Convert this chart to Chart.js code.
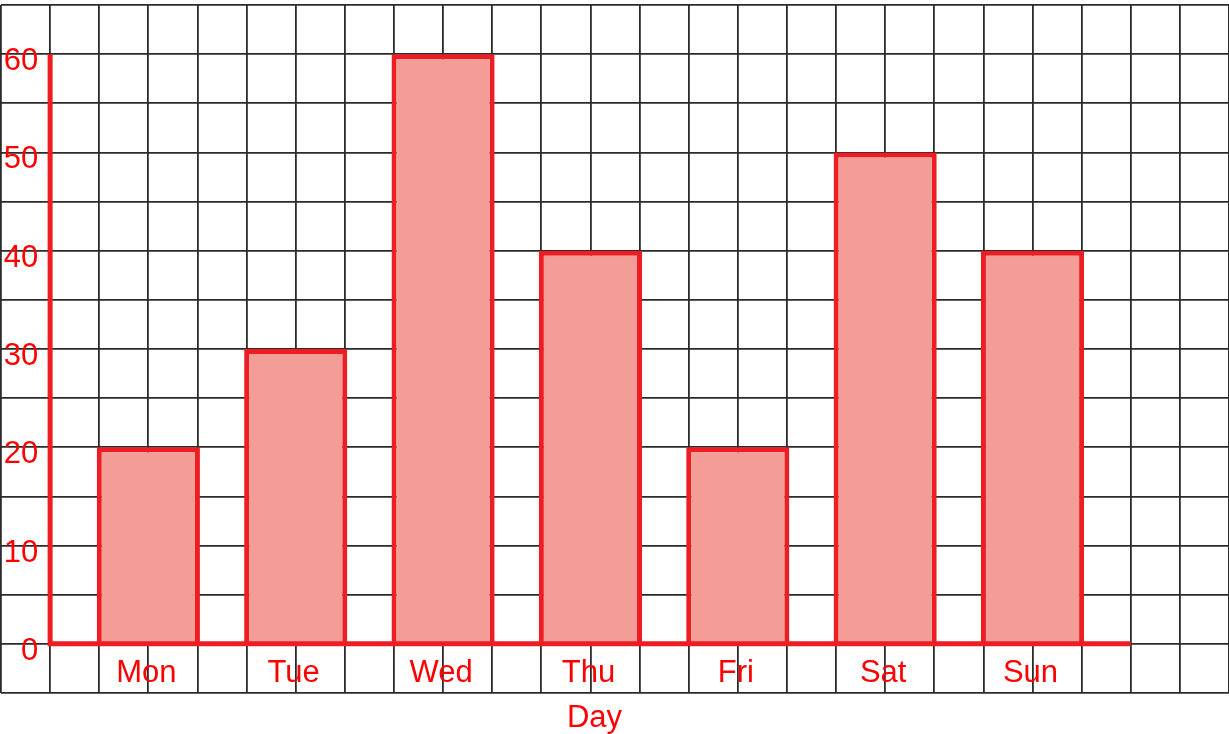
<!DOCTYPE html>
<html>
<head>
<meta charset="utf-8">
<title>Day</title>
<script src="https://cdn.jsdelivr.net/npm/chart.js@4.4.1/dist/chart.umd.min.js"></script>
<style>
  html, body { margin: 0; padding: 0; background: #fff; }
  canvas { display: block; }
</style>
</head>
<body>
<canvas id="chart-area" width="1229" height="734"></canvas>
<script>
const days = ['Mon', 'Tue', 'Wed', 'Thu', 'Fri', 'Sat', 'Sun'];
const counts = [20, 30, 60, 40, 20, 50, 40];
const yTicks = [0, 10, 20, 30, 40, 50, 60];
const axisTitle = 'Day';

// x is counted in grid squares: Mon two squares right of the y axis, then every three
const firstSlot = 2;
const slotStep = 3;
const xAxisEnd = 22;

const red = '#ee1d24';
const textRed = '#ff0000';
const labelFont = '31px "Liberation Sans", Arial, sans-serif';

const barData = counts.map(function(v, i) {
    return { x: firstSlot + i * slotStep, y: v };
});

// red axis lines plus all the red text, placed off the scales
const axesAndLabels = {
    id: 'axesAndLabels',
    afterDatasetsDraw: function(chart) {
        const ctx = chart.ctx;
        const xs = chart.scales.x;
        const ys = chart.scales.y;
        const x0 = xs.getPixelForValue(0);
        const y0 = ys.getPixelForValue(0);
        const xEnd = xs.getPixelForValue(xAxisEnd);

        ctx.save();
        ctx.strokeStyle = red;
        ctx.lineWidth = 5;
        ctx.beginPath();
        ctx.moveTo(x0, ys.getPixelForValue(yTicks[yTicks.length - 1]));
        ctx.lineTo(x0, y0 + 2.5);
        ctx.moveTo(x0 - 2.5, y0);
        ctx.lineTo(xEnd, y0);
        ctx.stroke();

        ctx.fillStyle = textRed;
        ctx.font = labelFont;
        ctx.textBaseline = 'alphabetic';
        ctx.textAlign = 'right';
        yTicks.forEach(function(v) {
            ctx.fillText(String(v), x0 - 12, ys.getPixelForValue(v) + 16);
        });
        ctx.textAlign = 'center';
        days.forEach(function(d, i) {
            ctx.fillText(d, xs.getPixelForValue(barData[i].x) - 2, y0 + 38);
        });
        ctx.fillText(axisTitle, (x0 + xEnd) / 2 + 4, y0 + 83);
        ctx.restore();
    }
};

const gridLines = { color: '#2b2b2b', lineWidth: 1.8, drawTicks: false, offset: false };

var config = {
    type: 'bar',
    data: {
        datasets: [{
            data: barData,
            backgroundColor: '#f39d96',
            borderColor: red,
            borderWidth: 5,
            categoryPercentage: 1,
            barPercentage: 2.1
        }]
    },
    options: {
        responsive: false,
        animation: false,
        devicePixelRatio: 1,
        layout: { padding: { left: 1, top: 5, right: 0, bottom: 41 } },
        plugins: {
            legend: { display: false },
            tooltip: { enabled: false }
        },
        scales: {
            x: {
                type: 'linear',
                min: -1,
                max: 24,
                offset: false,
                ticks: { display: false, stepSize: 1 },
                grid: gridLines,
                border: { display: false }
            },
            y: {
                min: -5,
                max: 65,
                ticks: { display: false, stepSize: 5 },
                grid: gridLines,
                border: { display: false }
            }
        }
    },
    plugins: [axesAndLabels]
};

window.onload = function() {
    var ctx = document.getElementById('chart-area').getContext('2d');
    window.myBar = new Chart(ctx, config);
};
</script>
</body>
</html>
